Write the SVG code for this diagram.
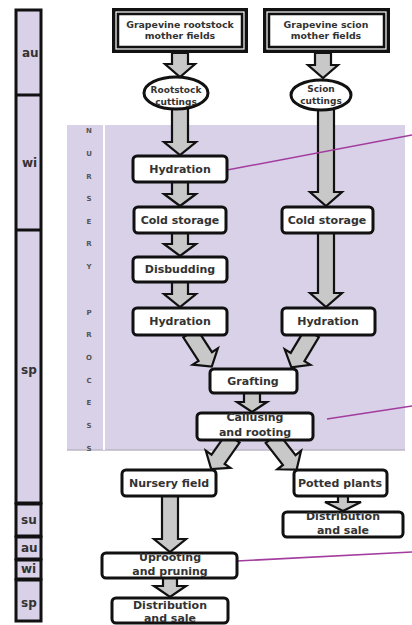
<svg xmlns="http://www.w3.org/2000/svg" width="412" height="625" viewBox="0 0 412 625">
<style>
.box{fill:#fff;stroke:#111;stroke-width:3}
.arr{fill:#c8c8c8;stroke:#111;stroke-width:2.2;stroke-linejoin:miter}
.t{font-family:"DejaVu Sans",sans-serif;font-weight:bold;font-size:11px;fill:#333;text-anchor:middle}
.ts{font-size:9.4px}
.te{font-size:9px}
.lead{stroke:#a23c9e;stroke-width:1.5;fill:none}
.season{fill:#d9d1e7;stroke:#111;stroke-width:3}
.sl{font-family:"DejaVu Sans",sans-serif;font-weight:bold;font-size:12px;fill:#333}
.np{font-family:"DejaVu Sans",sans-serif;font-weight:bold;font-size:7px;fill:#555;text-anchor:middle}
</style>

<g id="seasons">
  <rect class="season" x="16" y="10" width="25" height="493"/>
  <line x1="16" y1="95" x2="41" y2="95" stroke="#111" stroke-width="3"/>
  <line x1="16" y1="230" x2="41" y2="230" stroke="#111" stroke-width="3"/>
  <rect class="season" x="16" y="504" width="25" height="32"/>
  <rect class="season" x="16" y="537" width="25" height="22"/>
  <rect class="season" x="16" y="560" width="25" height="19"/>
  <rect class="season" x="16" y="580" width="25" height="41"/>
  <text class="sl" x="22" y="57">au</text>
  <text class="sl" x="22" y="167">wi</text>
  <text class="sl" x="21" y="374">sp</text>
  <text class="sl" x="21" y="524" fill="#555">su</text>
  <text class="sl" x="21" y="552" fill="#555">au</text>
  <text class="sl" x="21" y="573" fill="#555">wi</text>
  <text class="sl" x="21" y="607" fill="#555">sp</text>
</g>

<g id="nursery-process">
  <rect x="67" y="125" width="338" height="325" fill="#d9d1e7"/>
  <line x1="67" y1="450" x2="405" y2="450" stroke="#bdb6c6" stroke-width="1.5"/>
  <line x1="104" y1="125" x2="104" y2="450" stroke="#fff" stroke-width="2"/>
  <text class="np" x="89" y="133">N</text>
  <text class="np" x="89" y="156">U</text>
  <text class="np" x="89" y="179">R</text>
  <text class="np" x="89" y="201">S</text>
  <text class="np" x="89" y="224">E</text>
  <text class="np" x="89" y="246">R</text>
  <text class="np" x="89" y="269">Y</text>
  <text class="np" x="89" y="315">P</text>
  <text class="np" x="89" y="337">R</text>
  <text class="np" x="89" y="360">O</text>
  <text class="np" x="89" y="383">C</text>
  <text class="np" x="89" y="405">E</text>
  <text class="np" x="89" y="428">S</text>
  <text class="np" x="89" y="451">S</text>
</g>

<g id="connectors">
  <path class="arr" d="M172,53 H188 V64 H195 L180,77 L165,64 H172 Z"/>
  <path class="arr" d="M315,53 H331 V65 H338 L323,78 L308,65 H315 Z"/>
  <path class="arr" d="M172,106 H188 V142 H196 L180,155 L164,142 H172 Z"/>
  <path class="arr" d="M318,106 H334 V192 H342 L326,206 L310,192 H318 Z"/>
  <path class="arr" d="M172,182 H188 V194 H196 L180,206 L164,194 H172 Z"/>
  <path class="arr" d="M172,233 H188 V244 H196 L180,256 L164,244 H172 Z"/>
  <path class="arr" d="M172,282 H188 V294 H196 L180,307 L164,294 H172 Z"/>
  <path class="arr" d="M318,233 H334 V293 H342 L326,307 L310,293 H318 Z"/>
  <path class="arr" transform="translate(190,333) rotate(57)" d="M0,-8 H28 V-15 L40,0 L28,15 V8 H0 Z"/>
  <path class="arr" transform="translate(312,333) rotate(121)" d="M0,-8 H28 V-15 L40,0 L28,15 V8 H0 Z"/>
  <path class="arr" d="M244,393 H260 V402 H267 L252,412 L237,402 H244 Z"/>
  <path class="arr" transform="translate(233,438) rotate(125)" d="M0,-8 H26 V-15 L38,0 L26,15 V8 H0 Z"/>
  <path class="arr" transform="translate(272,438) rotate(52)" d="M0,-8 H28 V-15 L40,0 L28,15 V8 H0 Z"/>
  <path class="arr" d="M162,496 H178 V539 H186 L170,552 L154,539 H162 Z"/>
  <path class="arr" d="M163,578 H177 V586 H186 L170,597 L154,586 H163 Z"/>
  <path class="arr" d="M338,496 H348 V502 H361 L343,511 L325,502 H338 Z"/>
  <line class="lead" x1="227" y1="170" x2="412" y2="135"/>
  <line class="lead" x1="327" y1="419" x2="412" y2="406"/>
  <line class="lead" x1="237" y1="561" x2="412" y2="552"/>
</g>

<g id="rootstock-mother">
  <rect x="112" y="8" width="136" height="45" fill="#111"/>
  <rect x="116" y="12" width="128" height="37" fill="none" stroke="#fff" stroke-width="1.2"/>
  <rect x="118.5" y="14.5" width="123" height="32" fill="#fff" stroke="#111" stroke-width="1.5"/>
  <text class="t ts" x="180" y="28">Grapevine rootstock</text>
  <text class="t ts" x="180" y="39">mother fields</text>
</g>
<g id="scion-mother">
  <rect x="263" y="8" width="127" height="45" fill="#111"/>
  <rect x="267" y="12" width="119" height="37" fill="none" stroke="#fff" stroke-width="1.2"/>
  <rect x="269.5" y="14.5" width="114" height="32" fill="#fff" stroke="#111" stroke-width="1.5"/>
  <text class="t ts" x="326" y="28">Grapevine scion</text>
  <text class="t ts" x="326" y="39">mother fields</text>
</g>
<g id="rootstock-cuttings">
  <ellipse cx="176" cy="93" rx="32" ry="16" fill="#fff" stroke="#111" stroke-width="3"/>
  <text class="t te" x="176" y="93">Rootstock</text>
  <text class="t te" x="176" y="105">cuttings</text>
</g>
<g id="scion-cuttings">
  <ellipse cx="321" cy="95" rx="30" ry="15" fill="#fff" stroke="#111" stroke-width="3"/>
  <text class="t te" x="321" y="92">Scion</text>
  <text class="t te" x="321" y="104">cuttings</text>
</g>
<g id="hydration-1">
  <rect class="box" x="133" y="156" width="94" height="26" rx="4"/>
  <text class="t" x="180" y="173">Hydration</text>
</g>
<g id="cold-storage-l">
  <rect class="box" x="134" y="207" width="92" height="26" rx="4"/>
  <text class="t" x="180" y="224">Cold storage</text>
</g>
<g id="cold-storage-r">
  <rect class="box" x="282" y="207" width="91" height="26" rx="4"/>
  <text class="t" x="327" y="224">Cold storage</text>
</g>
<g id="disbudding">
  <rect class="box" x="133" y="257" width="94" height="25" rx="4"/>
  <text class="t" x="180" y="273">Disbudding</text>
</g>
<g id="hydration-2l">
  <rect class="box" x="133" y="308" width="94" height="27" rx="4"/>
  <text class="t" x="180" y="325">Hydration</text>
</g>
<g id="hydration-2r">
  <rect class="box" x="282" y="308" width="93" height="27" rx="4"/>
  <text class="t" x="328" y="325">Hydration</text>
</g>
<g id="grafting">
  <rect class="box" x="210" y="369" width="87" height="24" rx="4"/>
  <text class="t" x="253" y="385">Grafting</text>
</g>
<g id="callusing">
  <rect class="box" x="197" y="413" width="116" height="27" rx="4"/>
  <text class="t" x="255" y="421">Callusing</text>
  <text class="t" x="255" y="436">and rooting</text>
</g>
<g id="nursery-field">
  <rect class="box" x="122" y="470" width="94" height="26" rx="4"/>
  <text class="t" x="169" y="487">Nursery field</text>
</g>
<g id="potted-plants">
  <rect class="box" x="294" y="470" width="93" height="26" rx="4"/>
  <text class="t" x="340" y="487">Potted plants</text>
</g>
<g id="distribution-r">
  <rect class="box" x="283" y="512" width="120" height="25" rx="4"/>
  <text class="t" x="343" y="520">Distribution</text>
  <text class="t" x="343" y="534">and sale</text>
</g>
<g id="uprooting">
  <rect class="box" x="102" y="553" width="135" height="25" rx="4"/>
  <text class="t" x="170" y="561">Uprooting</text>
  <text class="t" x="170" y="575">and pruning</text>
</g>
<g id="distribution-l">
  <rect class="box" x="112" y="598" width="116" height="25" rx="4"/>
  <text class="t" x="170" y="609">Distribution</text>
  <text class="t" x="170" y="622">and sale</text>
</g>
</svg>
